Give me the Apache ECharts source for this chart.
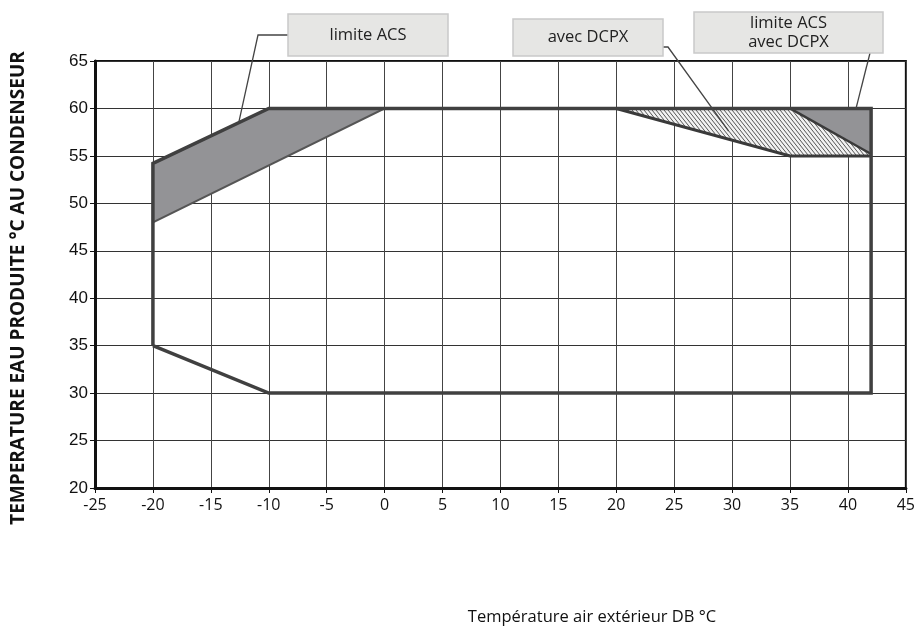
<!DOCTYPE html>
<html>
<head>
<meta charset="utf-8">
<script src="https://cdn.jsdelivr.net/npm/echarts@6/dist/echarts.min.js"></script>
<style>
  html, body { margin: 0; padding: 0; background: #fff; }
  #chart { width: 918px; height: 628px; }
</style>
</head>
<body>
<div id="chart"></div>
<script>
// Operating envelope (outdoor air temperature °C vs. produced water temperature °C)
const envelopeX = [-20, -20, -10, 42, 42, -10, -20];
const envelopeY = [35, 54.2, 60, 60, 30, 30, 35];

// "limite ACS" zone
const acsX = [-20, -10, 0, -20];
const acsY = [54.2, 60, 60, 48];

// "avec DCPX" zone (hatched)
const dcpxX = [20, 35, 42, 42, 35];
const dcpxY = [60, 60, 55.2, 55, 55];

// "limite ACS avec DCPX" zone
const acsDcpxX = [35, 42, 42];
const acsDcpxY = [60, 60, 55.2];

// Lower boundary of the DCPX zone and the diagonal split
const dcpxLowX = [20, 35, 42];
const dcpxLowY = [60, 55, 55];
const splitX = [35, 42];
const splitY = [60, 55.2];

// Axis ticks
const xTicks = [-25, -20, -15, -10, -5, 0, 5, 10, 15, 20, 25, 30, 35, 40, 45];
const yTicks = [20, 25, 30, 35, 40, 45, 50, 55, 60, 65];

// Axis titles
const xTitle = 'Température air extérieur DB °C';
const yTitle = 'TEMPERATURE EAU PRODUITE °C AU CONDENSEUR';

// Annotation labels and the data point each one points to
const notes = [
  { text: 'limite ACS', anchor: [-12.6, 58.45] },
  { text: 'avec DCPX', anchor: [29.7, 57.6] },
  { text: 'limite ACS\navec DCPX', anchor: [40.7, 60] }
];

const zip = (xs, ys) => xs.map((x, i) => [x, ys[i]]);

// Steep diagonal hatch tile
function hatchPattern() {
  const w = 4, h = 5;
  const c = document.createElement('canvas');
  c.width = w; c.height = h;
  const g = c.getContext('2d');
  g.fillStyle = '#f2f2f2';
  g.fillRect(0, 0, w, h);
  g.strokeStyle = '#555';
  g.lineWidth = 1;
  g.beginPath();
  for (let x0 = -w; x0 <= w; x0 += w) {
    g.moveTo(x0, 0);
    g.lineTo(x0 + w, h);
  }
  g.stroke();
  return c;
}

function polygonSeries(name, pts, fill, stroke, lw, closed, z) {
  return {
    type: 'custom',
    name: name,
    coordinateSystem: 'cartesian2d',
    data: [0],
    z: z,
    silent: true,
    renderItem: function (params, api) {
      const points = pts.map(p => api.coord(p));
      return {
        type: closed ? 'polygon' : 'polyline',
        shape: { points: points },
        style: {
          fill: closed ? fill : null,
          stroke: stroke,
          lineWidth: lw,
          lineJoin: 'miter'
        }
      };
    }
  };
}

const chart = echarts.init(document.getElementById('chart'), null, { renderer: 'canvas' });

const option = {
  animation: false,
  backgroundColor: '#ffffff',
  grid: {
    left: 95, right: 9, top: 61, bottom: 140,
    show: true, borderColor: '#111', borderWidth: 2, backgroundColor: 'transparent'
  },
  xAxis: {
    type: 'value',
    min: xTicks[0], max: xTicks[xTicks.length - 1], interval: 5,
    axisLine: { show: true, onZero: false, lineStyle: { color: '#111', width: 3 } },
    axisTick: { show: true, inside: false, length: 5, lineStyle: { color: '#111', width: 1 } },
    axisLabel: { fontFamily: 'Open Sans', fontSize: 16, color: '#111', margin: 9 },
    splitLine: { show: true, lineStyle: { color: '#444', width: 1 } }
  },
  yAxis: {
    type: 'value',
    min: yTicks[0], max: yTicks[yTicks.length - 1], interval: 5,
    axisLine: { show: true, onZero: false, lineStyle: { color: '#111', width: 3 } },
    axisTick: { show: true, inside: false, length: 5, lineStyle: { color: '#111', width: 1 } },
    axisLabel: { fontFamily: 'Liberation Sans', fontSize: 17, color: '#111', margin: 7 },
    splitLine: { show: true, lineStyle: { color: '#333', width: 1 } }
  },
  series: [
    polygonSeries('limite ACS', zip(acsX, acsY), '#939396', '#555', 2, true, 2),
    polygonSeries('avec DCPX', zip(dcpxX, dcpxY), { image: hatchPattern(), repeat: 'repeat' }, null, 0, true, 2),
    polygonSeries('limite ACS avec DCPX', zip(acsDcpxX, acsDcpxY), '#939396', null, 0, true, 2),
    polygonSeries('split', zip(splitX, splitY), null, '#3a3a3a', 2.5, false, 3),
    polygonSeries('DCPX bas', zip(dcpxLowX, dcpxLowY), null, '#3a3a3a', 3, false, 3),
    polygonSeries('enveloppe', zip(envelopeX, envelopeY), null, '#404040', 3.5, false, 4)
  ]
};

chart.setOption(option);

// Annotation boxes with leader lines to their zones
const boxes = [
  { x: 288, y: 14, w: 160, h: 42, elbow: [[288, 35], [258, 35]] },
  { x: 513, y: 19, w: 150, h: 37, elbow: [[663, 47], [668, 47]] },
  { x: 694, y: 12, w: 189, h: 41, elbow: [[870, 53]] }
];

const graphics = [];
boxes.forEach((b, i) => {
  const tip = chart.convertToPixel({ gridIndex: 0 }, notes[i].anchor);
  graphics.push({
    type: 'polyline',
    z: 10,
    shape: { points: b.elbow.concat([tip]) },
    style: { stroke: '#444', lineWidth: 1.3, fill: null }
  });
  graphics.push({
    type: 'rect',
    z: 11,
    shape: { x: b.x, y: b.y, width: b.w, height: b.h },
    style: { fill: '#e6e6e4', stroke: '#c9c9c9', lineWidth: 1.5 }
  });
  graphics.push({
    type: 'text',
    z: 12,
    x: b.x + b.w / 2,
    y: b.y + b.h / 2,
    style: {
      text: notes[i].text,
      fontFamily: 'Open Sans',
      fontSize: 16.5,
      fill: '#222',
      align: 'center',
      verticalAlign: 'middle',
      lineHeight: 19
    }
  });
});

// Axis titles
graphics.push({
  type: 'text',
  z: 12,
  x: 592,
  y: 617,
  style: {
    text: xTitle,
    fontFamily: 'Open Sans',
    fontSize: 16.5,
    fill: '#111',
    align: 'center',
    verticalAlign: 'middle'
  }
});
graphics.push({
  type: 'text',
  z: 12,
  x: 19,
  y: 288,
  rotation: Math.PI / 2,
  style: {
    text: yTitle,
    fontFamily: 'Open Sans',
    fontWeight: 'bold',
    fontSize: 19,
    fill: '#111',
    align: 'center',
    verticalAlign: 'middle'
  }
});

chart.setOption({ graphic: graphics });
</script>
</body>
</html>
